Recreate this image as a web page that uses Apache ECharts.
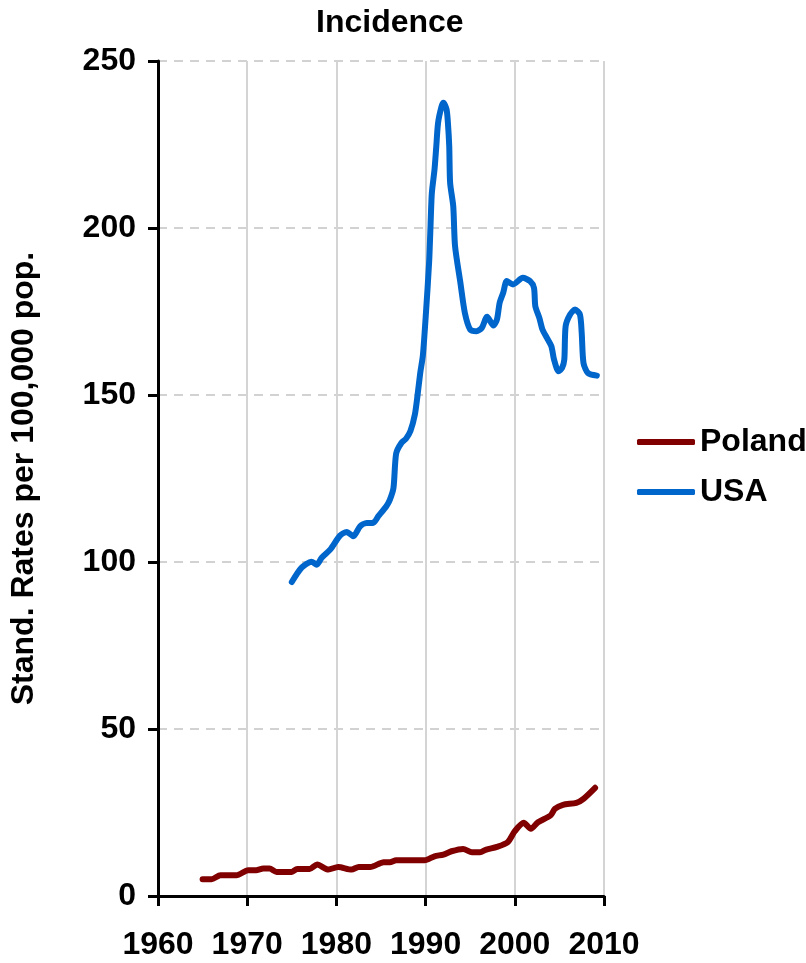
<!DOCTYPE html>
<html>
<head>
<meta charset="utf-8">
<script src="https://cdn.jsdelivr.net/npm/echarts@6/dist/echarts.min.js"></script>
<style>
  html, body { margin: 0; padding: 0; background: #fff; }
  #chart { width: 806px; height: 963px; }
</style>
</head>
<body>
<div id="chart"></div>
<script>
// Standardised incidence rates per 100,000 population
const polandYears = [1965, 1966, 1967, 1968.8, 1970.1, 1971, 1971.8, 1972.5, 1973.3, 1975, 1975.6, 1977, 1977.85, 1979.1, 1980.2, 1981.7, 1982.5, 1983.8, 1985.3, 1986, 1986.7, 1989.9, 1991, 1992, 1992.9, 1994.2, 1995.2, 1996.1, 1996.8, 1998, 1999.2, 2000, 2001, 2001.8, 2002.6, 2004, 2004.5, 2005.4, 2006.9, 2007.7, 2009];
const polandRates = [5, 5, 6.2, 6.2, 7.7, 7.7, 8.2, 8.2, 7.2, 7.2, 8.1, 8.1, 9.4, 7.9, 8.7, 7.9, 8.7, 8.7, 10.1, 10.1, 10.7, 10.7, 11.9, 12.4, 13.4, 14.1, 13.1, 13.1, 13.9, 14.7, 16.1, 19.4, 21.9, 20.1, 22.1, 24.1, 26.1, 27.3, 27.9, 29.1, 32.4];

const usaYears = [1975, 1976.1, 1977.2, 1977.8, 1978.35, 1979.3, 1980.4, 1981.15, 1981.9, 1982.65, 1983.4, 1984.1, 1984.7, 1985.6, 1986, 1986.4, 1986.7, 1987.3, 1987.8, 1988.3, 1988.8, 1989.1, 1989.4, 1989.7, 1990.05, 1990.4, 1990.55, 1990.7, 1991, 1991.2, 1991.4, 1991.8, 1992, 1992.35, 1992.5, 1992.65, 1992.75, 1993.1, 1993.3, 1993.9, 1994.4, 1995, 1995.7, 1996.3, 1996.9, 1997.6, 1998, 1998.3, 1998.7, 1999.1, 1999.8, 2000.9, 2001.7, 2002.15, 2002.3, 2002.75, 2003.1, 2003.6, 2004.1, 2004.4, 2004.9, 2005.3, 2005.55, 2005.7, 2006.2, 2006.75, 2007.3, 2007.5, 2007.7, 2008.2, 2009.2];
const usaRates = [94, 98.3, 100.1, 99.2, 101.3, 103.7, 107.9, 109, 107.7, 110.7, 111.7, 111.7, 113.7, 116.7, 118.7, 122.2, 132.5, 135.7, 136.9, 139.2, 144.2, 150, 156.6, 162, 175, 190, 200.5, 210.5, 217.5, 224.5, 231.5, 236.5, 237.5, 235.5, 231.5, 224.5, 213.5, 206.5, 194.6, 183.6, 174.6, 169.6, 169.1, 170.1, 173.4, 170.8, 172.6, 177.6, 180.6, 184.1, 183.1, 185.1, 184.1, 182.1, 176.6, 173.1, 169.6, 167.1, 164.6, 160.6, 157.1, 158.1, 160.6, 170.6, 174.1, 175.6, 174.1, 168.6, 159.6, 156.6, 155.8];

const yearTicks = { min: 1960, max: 2010, step: 10 };
const rateTicks = { min: 0, max: 250, step: 50 };

const pairs = (xs, ys) => xs.map((x, i) => [x, ys[i]]);

const FONT = '"Liberation Sans", Arial, sans-serif';
const SIZE = 32;
const chart = echarts.init(document.getElementById('chart'), null, { renderer: 'canvas' });

chart.setOption({
  animation: false,
  backgroundColor: '#ffffff',
  title: {
    text: 'Incidence',
    left: 311,
    top: 2,
    textStyle: { fontFamily: FONT, fontWeight: 'bold', fontSize: SIZE, color: '#000' }
  },
  legend: {
    orient: 'vertical',
    left: 632,
    top: 421,
    itemWidth: 58,
    itemHeight: 6,
    itemGap: 18,
    icon: 'roundRect',
    textStyle: { fontFamily: FONT, fontWeight: 'bold', fontSize: SIZE, color: '#000', lineHeight: 32 },
    data: ['Poland', 'USA']
  },
  grid: { left: 158, right: 202, top: 61, bottom: 67, containLabel: false },
  xAxis: {
    type: 'value',
    min: yearTicks.min,
    max: yearTicks.max,
    interval: yearTicks.step,
    axisLine: { lineStyle: { color: '#000', width: 3 } },
    axisTick: { show: true, length: 10, lineStyle: { color: '#000', width: 3 } },
    axisLabel: {
      margin: 33,
      fontFamily: FONT, fontWeight: 'bold', fontSize: SIZE, color: '#000',
      formatter: (v) => String(v)
    },
    splitLine: { show: true, lineStyle: { color: '#d4d4d4', width: 2, type: 'solid' } }
  },
  yAxis: {
    type: 'value',
    min: rateTicks.min,
    max: rateTicks.max,
    interval: rateTicks.step,
    name: 'Stand. Rates per 100,000 pop.',
    nameLocation: 'middle',
    nameGap: 118,
    nameTextStyle: { fontFamily: FONT, fontWeight: 'bold', fontSize: SIZE, color: '#000' },
    axisLine: { show: true, lineStyle: { color: '#000', width: 3 } },
    axisTick: { show: true, length: 10, lineStyle: { color: '#000', width: 3 } },
    axisLabel: { margin: 22, fontFamily: FONT, fontWeight: 'bold', fontSize: SIZE, color: '#000' },
    splitLine: { show: true, lineStyle: { color: '#c4c4c4', width: 1.5, type: [9, 7] } }
  },
  series: [
    {
      name: 'Poland',
      type: 'line',
      data: pairs(polandYears, polandRates),
      smooth: 0.25,
      showSymbol: false,
      symbol: 'none',
      color: '#800000',
      lineStyle: { width: 6, color: '#800000', cap: 'round', join: 'round' }
    },
    {
      name: 'USA',
      type: 'line',
      data: pairs(usaYears, usaRates),
      smooth: 0.25,
      showSymbol: false,
      symbol: 'none',
      color: '#0066cc',
      lineStyle: { width: 6, color: '#0066cc', cap: 'round', join: 'round' }
    }
  ]
});
</script>
</body>
</html>
